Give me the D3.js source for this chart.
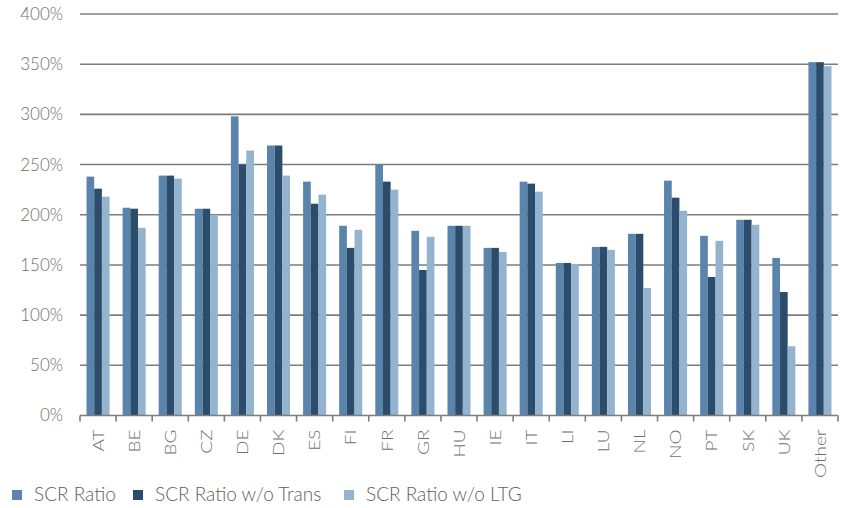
<!DOCTYPE html>
<html>
<head>
<meta charset="utf-8">
<script src="https://cdn.jsdelivr.net/npm/d3@7"></script>
<style>
  html, body { margin: 0; padding: 0; background: #fff; }
  svg text { font-family: Lato, "Open Sans", sans-serif; }
</style>
</head>
<body>
<svg id="chart" width="841" height="508"></svg>
<script>
// Solvency ratios by country (in %)
const countries = ["AT","BE","BG","CZ","DE","DK","ES","FI","FR","GR","HU","IE","IT","LI","LU","NL","NO","PT","SK","UK","Other"];
const scrRatio        = [238, 207, 239, 206, 298, 269, 233, 189, 250, 184, 189, 167, 233, 152, 168, 181, 234, 179, 195, 157, 352];
const scrWithoutTrans = [226, 206, 239, 206, 250, 269, 211, 167, 233, 145, 189, 167, 231, 152, 168, 181, 217, 138, 195, 123, 352];
const scrWithoutLTG   = [218, 187, 236, 200, 264, 239, 220, 185, 225, 178, 189, 163, 223, 151, 165, 127, 204, 174, 190, 69, 348];
const seriesNames = ["SCR Ratio", "SCR Ratio w/o Trans", "SCR Ratio w/o LTG"];
const seriesColors = ["#5a84ab", "#2b4d6b", "#93b3cf"];
const yTicks = [0, 50, 100, 150, 200, 250, 300, 350, 400];

const seriesValues = [scrRatio, scrWithoutTrans, scrWithoutLTG];
const rows = countries.map((c, i) => ({
  country: c,
  values: seriesNames.map((s, k) => ({ series: s, value: seriesValues[k][i], color: seriesColors[k] }))
}));

const svg = d3.select("#chart");
const margin = { left: 80, right: 3, top: 14, bottom: 92 };
const W = 841, H = 508;

const x = d3.scaleBand().domain(countries).range([margin.left, W - margin.right]).padding(0);
const x1 = d3.scaleBand().domain(seriesNames).range([0, x.bandwidth()]).paddingInner(0).paddingOuter(0.85);
const y = d3.scaleLinear().domain([0, 400]).range([H - margin.bottom - 0.5, margin.top]);

// horizontal gridlines
svg.append("g")
  .selectAll("line")
  .data(yTicks.filter(t => t > 0))
  .join("line")
  .attr("x1", margin.left)
  .attr("x2", W - margin.right)
  .attr("y1", d => y(d))
  .attr("y2", d => y(d))
  .attr("stroke", "#7d7d7d")
  .attr("stroke-width", 1.6);

// y axis labels
const yAxis = d3.axisLeft(y).tickValues(yTicks).tickFormat(d => d + "%").tickSize(0).tickPadding(17);
const gy = svg.append("g").attr("transform", `translate(${margin.left},0)`).call(yAxis);
gy.select(".domain").remove();
gy.selectAll("text")
  .attr("fill", "#6e6e6e")
  .style("font-size", "17px")
  .style("font-weight", 300);

// bars
const groups = svg.append("g")
  .selectAll("g")
  .data(rows)
  .join("g")
  .attr("transform", d => `translate(${x(d.country)},0)`);

groups.selectAll("rect")
  .data(d => d.values)
  .join("rect")
  .attr("x", d => x1(d.series))
  .attr("width", x1.bandwidth())
  .attr("y", d => y(d.value))
  .attr("height", d => y(0) - y(d.value))
  .attr("fill", d => d.color);

// x axis baseline with boundary ticks
const gx = svg.append("g");
gx.append("line")
  .attr("x1", margin.left)
  .attr("x2", W - margin.right)
  .attr("y1", y(0))
  .attr("y2", y(0))
  .attr("stroke", "#7d7d7d")
  .attr("stroke-width", 1.6);
const boundaries = countries.map(c => x(c)).concat([x(countries[countries.length - 1]) + x.bandwidth()]);
gx.selectAll("line.tick")
  .data(boundaries)
  .join("line")
  .attr("class", "tick")
  .attr("x1", d => d)
  .attr("x2", d => d)
  .attr("y1", y(0))
  .attr("y2", y(0) + 6)
  .attr("stroke", "#7d7d7d")
  .attr("stroke-width", 1.6);

// rotated category labels
gx.selectAll("text")
  .data(countries)
  .join("text")
  .attr("transform", d => `translate(${x(d) + x.bandwidth() / 2},${y(0) + 14}) rotate(-90) scale(1.15,1)`)
  .attr("text-anchor", "end")
  .attr("dy", "0.35em")
  .attr("fill", "#6e6e6e")
  .style("font-size", "16.5px")
  .style("font-weight", 300)
  .text(d => d);

// legend
const legendX = [12, 133, 344];
const legend = svg.append("g")
  .selectAll("g")
  .data(seriesNames)
  .join("g")
  .attr("transform", (d, i) => `translate(${legendX[i]},495)`);
legend.append("rect")
  .attr("x", 0).attr("y", -5)
  .attr("width", 10).attr("height", 10)
  .attr("fill", (d, i) => seriesColors[i]);
legend.append("text")
  .attr("x", 22)
  .attr("y", 6)
  .attr("fill", "#5e5e5e")
  .style("font-size", "19px")
  .style("font-weight", 300)
  .text(d => d);
</script>
</body>
</html>
